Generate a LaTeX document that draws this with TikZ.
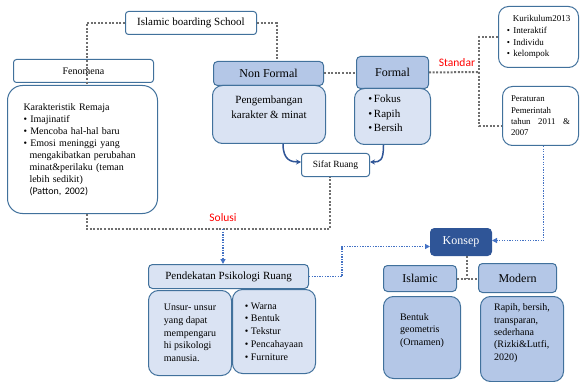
\documentclass[tikz,border=0pt]{standalone}
\usepackage{fontspec}
\setmainfont{Liberation Serif}
\newfontfamily\calibri{Carlito}
\usetikzlibrary{calc,arrows.meta}
\definecolor{bordblue}{HTML}{41719C}
\definecolor{midblue}{HTML}{B4C7E7}
\definecolor{liteblue}{HTML}{DAE3F3}
\definecolor{darkblue}{HTML}{2F5597}
\definecolor{dotblue}{HTML}{4472C4}
\definecolor{dotgray}{HTML}{6F6F6F}
\def\fs#1#2{\fontsize{#1}{#2}\selectfont}
\def\bul{\textbullet\ }
\def\ind{\hspace*{6pt}}
\tikzset{
	whitebox/.style={draw=bordblue, line width=1pt, fill=white, rounded corners=3pt, anchor=north west, inner sep=0pt},
	headbox/.style={draw=bordblue, line width=1pt, fill=midblue, rounded corners=4pt, anchor=north west, inner sep=0pt},
	bodybox/.style={draw=bordblue, line width=1pt, fill=liteblue, rounded corners=10pt, anchor=north west, inner sep=0pt},
	grayline/.style={draw=dotgray, line width=2pt, dash pattern=on 2pt off 1.6pt},
	blueline/.style={draw=dotblue, line width=1.3pt, dash pattern=on 1.3pt off 1.3pt, -{Triangle[length=5pt, width=5pt]}},
	bendarrow/.style={draw=darkblue, line width=1.5pt, -{Stealth[length=5pt, width=5pt]}},
	redlabel/.style={text=red, font=\calibri\fs{11.5}{13}}
}

\begin{document}
\begin{tikzpicture}[x=1pt, y=-1pt]
			%%%%% START %%%%%
			\useasboundingbox (0, 0) rectangle (580, 382);
			
			\node[whitebox, minimum width=131pt, minimum height=23pt, font=\fs{11}{13}] (school) at (125, 11) {Islamic boarding School};
			\node[whitebox, minimum width=140pt, minimum height=23pt, font=\fs{10}{12}] (fenomena) at (13, 59) {Fenomena};
			\node[whitebox, rounded corners=15pt, minimum width=150pt, minimum height=128pt, text width=118pt, align=left, font=\fs{10}{12}] (remaja) at (7, 85) {Karakteristik Remaja\\
				\bul Imajinatif\\
				\bul Mencoba hal-hal baru\\
				\bul Emosi meninggi yang\\
				\ind mengakibatkan perubahan\\
				\ind minat\&perilaku (teman\\
				\ind lebih sedikit)\\
				\ind{\calibri (Patton, 2002)}};
			
			\node[headbox, minimum width=110pt, minimum height=24pt, font=\fs{12}{14}] (nonformal) at (213, 61) {Non Formal};
			\node[bodybox, minimum width=113pt, minimum height=58pt, label={[name=nftext, yshift=7pt, align=center, font=\fs{11}{15}]center:Pengembangan\\karakter \& minat}] (nfbody) at (212, 85) {};
			
			\node[headbox, minimum width=72pt, minimum height=32pt, font=\fs{12}{14}] (formal) at (356, 56) {Formal};
			\node[bodybox, minimum width=76pt, minimum height=56pt, label={[name=ftext, xshift=-7pt, yshift=3pt, align=left, font=\fs{11}{14.5}]center:\textbullet\,Fokus\\\textbullet\,Rapih\\\textbullet\,Bersih}] (fbody) at (354, 88) {};
			
			\node[whitebox, minimum width=68pt, minimum height=23pt, font=\fs{9.5}{11}] (sifat) at (301, 153) {Sifat Ruang};
			
			\node[whitebox, rounded corners=10pt, minimum width=80pt, minimum height=61pt, align=left, font=\fs{9}{11.7}] (kurikulum) at (498, 6) {\hspace*{6pt}Kurikulum2013\\
				\textbullet\hspace{3.5pt}Interaktif\\
				\textbullet\hspace{3.5pt}Individu\\
				\textbullet\hspace{3.5pt}kelompok};
			\node[whitebox, rounded corners=10pt, minimum width=76pt, minimum height=59pt, align=left, font=\fs{8.8}{11.3}] (peraturan) at (502, 86) {Peraturan\\
				Pemerintah\\
				\hbox to 59pt{tahun\hfill 2011\hfill\&}\\
				2007};
			
			\node[headbox, fill=liteblue, minimum width=160pt, minimum height=24pt, font=\fs{11}{13}] (pendekatan) at (148, 264) {Pendekatan Psikologi Ruang};
			\node[bodybox, minimum width=83pt, minimum height=85pt, align=left, font=\fs{10}{12.7}] (unsur) at (148, 290) {Unsur- unsur\\yang dapat\\mempengaru\\hi psikologi\\manusia.};
			\node[bodybox, minimum width=83pt, minimum height=84pt, align=left, font=\fs{10}{12.8}] (elemen) at (232, 289) {\bul Warna\\\bul Bentuk\\\bul Tekstur\\\bul Pencahayaan\\\bul Furniture};
			
			\node[headbox, draw=darkblue, fill=darkblue, text=white, minimum width=61pt, minimum height=27pt, font=\fs{12}{14}] (konsep) at (430, 228) {Konsep};
			\node[headbox, minimum width=73pt, minimum height=26pt, font=\fs{12}{14}] (islamic) at (383, 265) {Islamic};
			\node[headbox, minimum width=78pt, minimum height=29pt, font=\fs{12}{14}] (modern) at (478, 263) {Modern};
			\node[bodybox, fill=midblue, minimum width=77pt, minimum height=82pt, label={[name=itext, yshift=7pt, align=left, font=\fs{10}{12.7}]center:Bentuk\\geometris\\(Ornamen)}] (ibody) at (383, 296) {};
			\node[bodybox, fill=midblue, minimum width=83pt, minimum height=85pt, label={[name=mtext, yshift=6pt, align=left, font=\fs{10}{12.3}]center:Rapih, bersih,\\transparan,\\sederhana\\(Rizki\&Lutfi,\\2020)}] (mbody) at (480, 296) {};
			
			\node[redlabel] (standar) at (457, 63) {Standar};
			\node[redlabel] (solusi) at (223, 218) {Solusi};
			
			\coordinate (branch) at (479, 72);
			\coordinate (split) at (223, 229);
			
			\draw[grayline] (school.west) -| ([xshift=4pt]remaja.north);
			\draw[grayline] (school.east) -| ([xshift=8pt]nonformal.north);
			\draw[grayline] (nonformal.east) -- (formal.west |- nonformal.east);
			\draw[grayline] (formal.east) -- (branch);
			\draw[grayline] (kurikulum.west) -| (branch) |- ([yshift=-10pt]peraturan.west);
			\draw[grayline] ([xshift=4pt]remaja.south) |- (split) -| ([xshift=-6pt]sifat.south);
			\draw[grayline] ([xshift=6pt]konsep.south) -- ([xshift=6pt]konsep.south |- islamic.east);
			\draw[grayline] (islamic.east) -- (modern.west |- islamic.east);
			
			\draw[bendarrow] ([xshift=14pt]nfbody.south) .. controls +(0, 16) and +(-10, 0) .. ([yshift=3pt]sifat.west);
			\draw[bendarrow] ([xshift=-9pt]fbody.south) .. controls +(0, 16) and +(10, 0) .. ([yshift=3pt]sifat.east);
			
			\draw[blueline] (split) -- (split |- pendekatan.north);
			\draw[blueline] (pendekatan.east) -- ++(33, 0) |- ([yshift=-4.5pt]konsep.west);
			\draw[blueline] ([xshift=3pt]peraturan.south) |- ([yshift=1.5pt]konsep.east);
			
			%%%%% END %%%%%
\end{tikzpicture}
\end{document}
